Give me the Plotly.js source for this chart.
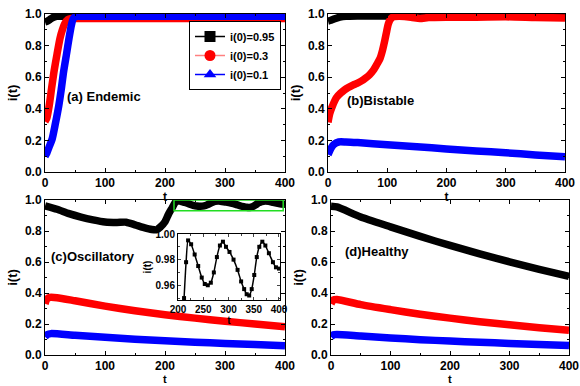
<!DOCTYPE html>
<html>
<head>
<meta charset="utf-8">
<script src="https://cdn.plot.ly/plotly-3.0.1.min.js"></script>
<style>html,body{margin:0;padding:0;background:#fff;}#chart{width:580px;height:386px;}</style>
</head>
<body>
<div id="chart"></div>
<script>
// ---------- data ----------
const seriesNames = ["i(0)=0.95", "i(0)=0.3", "i(0)=0.1"];
const panelLabels = ["(a) Endemic", "(b)Bistable", "(c)Oscillatory", "(d)Healthy"];
const xTitle = "t";
const yTitle = "i(t)";
const xTicks = [0, 100, 200, 300, 400];
const yTicks = [0, 0.2, 0.4, 0.6, 0.8, 1.0];
const insetXTicks = [200, 250, 300, 350, 400];
const insetYTicks = [0.96, 0.98, 1.00];

// (a) Endemic
const aBlackT = [0, 4, 8, 12, 16, 20, 30, 60, 100, 200, 300, 400];
const aBlackI = [0.95, 0.955, 0.965, 0.975, 0.982, 0.985, 0.986, 0.986, 0.986, 0.986, 0.986, 0.986];
const aRedT = [0, 3, 7, 11, 15, 20, 25, 29, 33, 38, 44, 50, 100, 200, 300, 400];
const aRedI = [0.32, 0.34, 0.42, 0.53, 0.635, 0.745, 0.846, 0.9, 0.94, 0.965, 0.972, 0.972, 0.972, 0.972, 0.972, 0.972];
const aBlueT = [0, 3, 7, 12, 17, 23, 27, 31, 36, 40, 44, 47, 52, 60, 100, 200, 300, 400];
const aBlueI = [0.1, 0.12, 0.16, 0.21, 0.3, 0.42, 0.52, 0.635, 0.75, 0.846, 0.93, 0.97, 0.985, 0.986, 0.986, 0.986, 0.986, 0.986];

// (b) Bistable
const bBlackT = [0, 5, 10, 20, 30, 50, 100, 200, 300, 400];
const bBlackI = [0.955, 0.96, 0.968, 0.98, 0.986, 0.988, 0.988, 0.988, 0.988, 0.988];
const bRedT = [0, 3, 7, 14, 21, 28, 35, 42, 49, 56, 63, 70, 77, 83, 88, 92, 96, 99, 102, 106, 111, 120, 140, 155, 170, 200, 250, 300, 350, 400];
const bRedI = [0.315, 0.37, 0.413, 0.47, 0.498, 0.52, 0.536, 0.55, 0.561, 0.575, 0.593, 0.615, 0.646, 0.685, 0.72, 0.77, 0.835, 0.89, 0.94, 0.97, 0.983, 0.985, 0.98, 0.972, 0.978, 0.98, 0.98, 0.982, 0.978, 0.975];
const bBlueT = [0, 5, 10, 18, 30, 50, 100, 150, 200, 250, 300, 350, 400];
const bBlueI = [0.11, 0.15, 0.175, 0.19, 0.19, 0.186, 0.172, 0.16, 0.146, 0.133, 0.122, 0.108, 0.097];

// (c) Oscillatory
const cBlackT = [0, 20, 40, 60, 80, 100, 120, 135, 150, 165, 178, 186, 192, 200, 206, 212, 216, 220, 226, 233, 240, 247, 253, 259, 265, 271, 277, 283, 289, 295, 302, 310, 318, 325, 331, 336, 341, 346, 351, 356, 361, 367, 373, 380, 388, 394, 400];
const cBlackI = [0.962, 0.94, 0.912, 0.89, 0.872, 0.858, 0.855, 0.857, 0.84, 0.822, 0.81, 0.808, 0.825, 0.86, 0.91, 0.95, 0.978, 0.995, 0.992, 0.984, 0.975, 0.966, 0.961, 0.96, 0.962, 0.97, 0.982, 0.991, 0.994, 0.99, 0.986, 0.98, 0.972, 0.963, 0.957, 0.953, 0.952, 0.957, 0.968, 0.982, 0.99, 0.994, 0.991, 0.985, 0.978, 0.974, 0.973];
const cRedT = [0, 3, 8, 20, 50, 100, 150, 200, 250, 300, 350, 400];
const cRedI = [0.33, 0.36, 0.372, 0.37, 0.35, 0.315, 0.285, 0.26, 0.238, 0.218, 0.2, 0.183];
const cBlueT = [0, 4, 10, 50, 100, 150, 200, 250, 300, 350, 400];
const cBlueI = [0.118, 0.132, 0.138, 0.127, 0.114, 0.102, 0.092, 0.083, 0.075, 0.067, 0.06];

// (d) Healthy
const dBlackT = [0, 10, 50, 100, 150, 200, 250, 300, 350, 400];
const dBlackI = [0.96, 0.955, 0.89, 0.827, 0.765, 0.707, 0.652, 0.601, 0.553, 0.508];
const dRedT = [0, 4, 10, 50, 100, 150, 200, 250, 300, 350, 400];
const dRedI = [0.33, 0.355, 0.358, 0.325, 0.293, 0.263, 0.238, 0.215, 0.195, 0.176, 0.16];
const dBlueT = [0, 4, 10, 50, 100, 150, 200, 250, 300, 350, 400];
const dBlueI = [0.118, 0.13, 0.132, 0.122, 0.11, 0.099, 0.09, 0.082, 0.075, 0.068, 0.062];

// ---------- styling ----------
const FONT = "Liberation Sans, Arial, sans-serif";
const colors = ["#000000", "#ff0000", "#0000ff"];
const legendLine = ["#000000", "#ff8080", "#0000ff"];
const symbols = ["square", "circle", "triangle-up"];
const BAND = 7.5;

function band(t, i, c, xa, ya) {
  return {x: t, y: i, xaxis: xa, yaxis: ya, type: "scatter", mode: "lines",
    line: {color: c, width: BAND, shape: "spline", smoothing: 0.6}, showlegend: false, hoverinfo: "skip"};
}

const traces = [];
const panels = [
  [[aBlackT, aBlackI], [aRedT, aRedI], [aBlueT, aBlueI]],
  [[bBlackT, bBlackI], [bRedT, bRedI], [bBlueT, bBlueI]],
  [[cBlackT, cBlackI], [cRedT, cRedI], [cBlueT, cBlueI]],
  [[dBlackT, dBlackI], [dRedT, dRedI], [dBlueT, dBlueI]]
];
panels.forEach((p, k) => {
  const xa = k === 0 ? "x" : "x" + (k + 1);
  const ya = k === 0 ? "y" : "y" + (k + 1);
  p.forEach((s, j) => traces.push(band(s[0], s[1], colors[j], xa, ya)));
});
// inset
traces.push({x: cBlackT, y: cBlackI, xaxis: "x5", yaxis: "y5", type: "scatter", mode: "lines+markers",
  line: {color: "#000", width: 1.5, shape: "spline", smoothing: 0.6},
  marker: {symbol: "square", size: 4, color: "#000"}, showlegend: false, hoverinfo: "skip"});
// legend entries
seriesNames.forEach((n, j) => traces.push({x: [null], y: [null], xaxis: "x", yaxis: "y", type: "scatter",
  mode: "lines+markers", name: n, line: {color: legendLine[j], width: 1.5},
  marker: {symbol: symbols[j], size: 11, color: colors[j]}, showlegend: true}));

const W = 580, H = 386;
function dx(a, b) { return [a / W, b / W]; }
function dy(top, bottom) { return [1 - bottom / H, 1 - top / H]; }
const tf = (s) => ({family: FONT, size: s, color: "#000", weight: "bold"});

function xax(dom, anchor, title) {
  return {domain: dom, anchor: anchor, range: [0, 400], tickvals: xTicks, ticktext: xTicks.map(String),
    ticks: "inside", ticklen: 4, tickwidth: 1, tickcolor: "#000", mirror: "ticks", showline: true, linecolor: "#000", linewidth: 1,
    showgrid: false, zeroline: false, tickfont: tf(12),
    minor: {ticks: "inside", ticklen: 2, dtick: 50, tickcolor: "#000"},
    title: {text: title, font: tf(12), standoff: 3}, fixedrange: true};
}
function yax(dom, anchor) {
  return {domain: dom, anchor: anchor, range: [0, 1], tickvals: yTicks, ticktext: yTicks.map(v => v.toFixed(1)),
    ticks: "inside", ticklen: 4, tickwidth: 1, tickcolor: "#000", mirror: "ticks", showline: true, linecolor: "#000", linewidth: 1,
    showgrid: false, zeroline: false, tickfont: tf(12),
    minor: {ticks: "inside", ticklen: 2, dtick: 0.1, tickcolor: "#000"},
    title: {text: yTitle, font: tf(13), standoff: 4}, fixedrange: true};
}

const layout = {
  width: W, height: H, margin: {l: 0, r: 0, t: 0, b: 0}, paper_bgcolor: "#fff", plot_bgcolor: "#fff",
  font: {family: FONT, color: "#000"},
  xaxis: xax(dx(45, 285), "y", xTitle), yaxis: yax(dy(14, 172), "x"),
  xaxis2: xax(dx(328, 565), "y2", xTitle), yaxis2: yax(dy(14, 172), "x2"),
  xaxis3: xax(dx(45, 285), "y3", ""), yaxis3: yax(dy(200, 355), "x3"),
  xaxis4: xax(dx(331, 569), "y4", ""), yaxis4: yax(dy(200, 355), "x4"),
  xaxis5: {domain: dx(178, 280), anchor: "y5", range: [200, 402], tickvals: insetXTicks, ticktext: insetXTicks.map(String),
    ticks: "inside", ticklen: 3, mirror: "ticks", showline: true, linecolor: "#000", linewidth: 1, showgrid: false, zeroline: false,
    tickfont: tf(10), minor: {ticks: "inside", ticklen: 2, dtick: 25},
    title: {text: xTitle, font: tf(10), standoff: 1}, fixedrange: true},
  yaxis5: {domain: dy(234, 300), anchor: "x5", range: [0.9485, 1.0], tickvals: insetYTicks, ticktext: insetYTicks.map(v => v.toFixed(2)),
    ticks: "inside", ticklen: 3, mirror: "ticks", showline: true, linecolor: "#000", linewidth: 1, showgrid: false, zeroline: false,
    tickfont: tf(10), minor: {ticks: "inside", ticklen: 2, dtick: 0.01},
    title: {text: yTitle, font: tf(10), standoff: 2}, fixedrange: true},
  shapes: [
    {type: "rect", xref: "x3", yref: "y3", x0: 215, x1: 397, y0: 0.93, y1: 1.0, line: {color: "#22dd22", width: 1.5}, layer: "above"}
  ],
  annotations: [
    {xref: "x", yref: "y", x: 33, y: 0.475, text: panelLabels[0], showarrow: false, xanchor: "left", font: tf(13)},
    {xref: "x2", yref: "y2", x: 29, y: 0.455, text: panelLabels[1], showarrow: false, xanchor: "left", font: tf(13)},
    {xref: "x3", yref: "y3", x: 7, y: 0.635, text: panelLabels[2], showarrow: false, xanchor: "left", font: tf(13)},
    {xref: "x4", yref: "y4", x: 20, y: 0.665, text: panelLabels[3], showarrow: false, xanchor: "left", font: tf(13)},
    {xref: "x3", yref: "paper", x: 200, y: 0, yanchor: "bottom", text: xTitle, showarrow: false, font: tf(11), borderpad: 0},
    {xref: "x4", yref: "paper", x: 200, y: 0, yanchor: "bottom", text: xTitle, showarrow: false, font: tf(11), borderpad: 0}
  ],
  legend: {x: 189 / W, y: 1 - 21 / H, xanchor: "left", yanchor: "top", bgcolor: "#fff", bordercolor: "#000", borderwidth: 1,
    font: tf(11), tracegroupgap: 0, itemwidth: 30}
};

Plotly.newPlot("chart", traces, layout, {staticPlot: true, displayModeBar: false});
</script>
</body>
</html>
